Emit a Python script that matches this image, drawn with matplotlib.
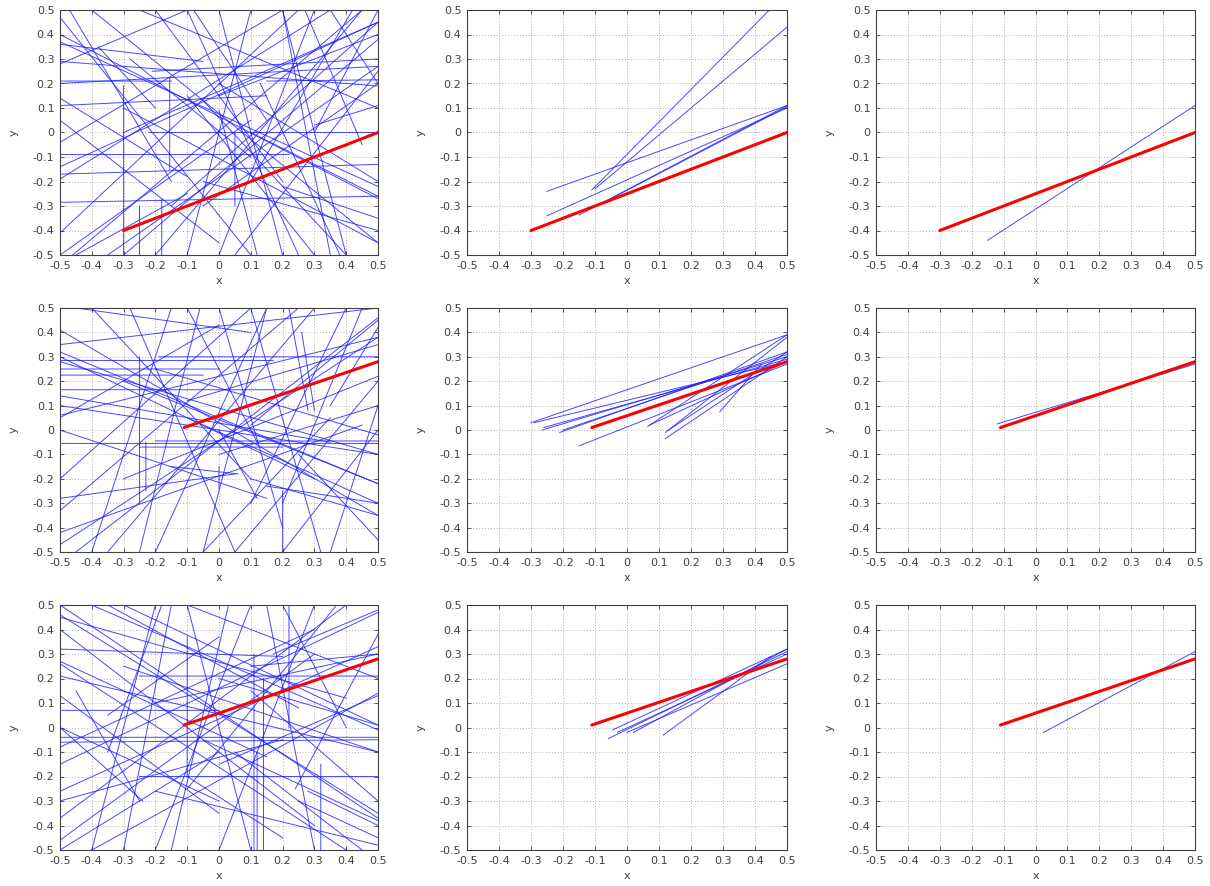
import matplotlib
matplotlib.use("Agg")
from matplotlib import pyplot as plt
from matplotlib.ticker import FuncFormatter, MultipleLocator

plt.rcParams['axes.unicode_minus'] = False
plt.rcParams['font.family'] = 'DejaVu Sans'

# target segment (red) for each row
target_top = [(-0.30, -0.40), (0.50, 0.00)]
target_mid = [(-0.11, 0.01), (0.50, 0.28)]
target_bot = [(-0.11, 0.01), (0.50, 0.28)]

# blue segments, (x0, y0, x1, y1)
segs_top_left = [
    (-0.50, 0.21, -0.15, 0.21), (-0.22, 0.00, 0.50, 0.00), (-0.50, -0.09, 0.22, -0.09),
    (-0.50, -0.17, 0.50, -0.13), (-0.50, -0.285, 0.50, -0.26), (-0.30, 0.19, -0.30, -0.50),
    (-0.155, 0.22, -0.155, -0.15), (-0.18, -0.27, -0.18, -0.50), (0.05, 0.00, 0.05, -0.30),
    (-0.50, 0.11, 0.15, 0.15), (-0.21, 0.25, 0.50, 0.30), (-0.50, 0.20, 0.50, 0.27),
    (-0.50, 0.36, -0.05, 0.29), (0.15, 0.21, 0.50, 0.215), (-0.50, -0.41, 0.25, 0.50),
    (-0.46, -0.50, 0.45, 0.50), (-0.50, 0.47, 0.10, -0.50), (-0.47, 0.50, -0.15, -0.20),
    (-0.50, 0.40, 0.50, -0.27), (-0.50, 0.37, 0.50, -0.22), (-0.40, 0.50, 0.50, -0.45),
    (-0.25, 0.50, 0.50, 0.10), (-0.50, -0.04, 0.20, 0.50), (-0.50, -0.14, 0.50, 0.45),
    (-0.50, -0.19, 0.35, 0.50), (0.00, 0.50, 0.20, -0.50), (0.10, 0.50, -0.10, -0.50),
    (0.20, 0.50, 0.35, -0.50), (0.30, 0.50, 0.00, -0.50), (0.42, 0.50, 0.10, -0.20),
    (-0.10, 0.50, 0.25, -0.50), (-0.20, 0.50, 0.20, -0.20), (0.30, 0.03, 0.50, 0.11),
    (-0.15, -0.30, 0.50, 0.45), (-0.30, -0.50, 0.50, 0.38), (-0.35, -0.50, 0.50, 0.27),
    (-0.20, -0.50, 0.45, 0.50), (0.50, -0.20, 0.00, 0.20), (0.50, -0.45, -0.30, 0.10),
    (0.50, -0.26, 0.10, 0.00), (0.00, 0.09, 0.12, -0.50), (-0.05, -0.30, 0.50, 0.20),
    (0.40, -0.50, 0.20, 0.50), (0.50, -0.40, -0.05, -0.20), (-0.25, -0.30, -0.25, -0.50),
    (-0.50, 0.29, 0.50, 0.19), (-0.10, 0.50, -0.50, 0.28), (0.50, 0.45, -0.30, 0.00),
    (0.50, 0.40, 0.00, 0.15), (0.05, -0.50, 0.50, 0.25), (0.27, 0.50, 0.45, -0.05),
    (0.50, 0.50, 0.30, 0.00), (-0.10, 0.15, 0.30, -0.50), (-0.50, 0.14, -0.10, -0.18),
    (-0.28, 0.30, 0.10, -0.10), (0.13, 0.20, 0.38, -0.50), (-0.45, -0.50, -0.10, -0.25),
    (0.20, -0.22, 0.50, -0.35), (-0.38, 0.35, -0.20, 0.10), (-0.50, -0.50, 0.10, 0.05),
    (-0.08, 0.50, 0.15, 0.05), (-0.50, 0.05, 0.00, -0.45), (0.35, 0.50, 0.50, 0.20),
    (-0.05, 0.13, 0.40, -0.50),
]

segs_mid_left = [
    (-0.19, 0.30, 0.50, 0.30), (-0.50, 0.285, 0.17, 0.285), (-0.50, 0.25, 0.00, 0.25),
    (-0.50, 0.225, -0.05, 0.225), (-0.50, 0.165, 0.20, 0.165), (-0.50, -0.055, 0.50, -0.055),
    (-0.20, -0.045, 0.50, -0.045), (-0.25, -0.07, 0.20, -0.07), (0.20, -0.25, 0.20, -0.50),
    (0.00, -0.15, 0.00, -0.24), (-0.23, -0.05, -0.23, -0.25), (-0.50, 0.41, 0.50, -0.35),
    (-0.50, 0.32, 0.50, -0.22), (-0.50, 0.30, 0.30, -0.20), (-0.50, -0.20, 0.10, 0.50),
    (-0.50, -0.33, 0.25, 0.50), (-0.50, -0.47, 0.50, 0.38), (-0.45, -0.50, 0.50, 0.46),
    (-0.50, -0.42, 0.45, 0.02), (-0.50, 0.10, 0.50, -0.10), (-0.40, 0.50, 0.10, -0.20),
    (-0.28, 0.50, 0.05, -0.50), (-0.10, 0.50, 0.12, -0.05), (-0.06, 0.50, -0.25, -0.50),
    (0.00, 0.50, 0.20, -0.40), (0.15, 0.50, -0.05, -0.50), (0.22, 0.50, 0.28, 0.08),
    (0.40, 0.50, 0.10, -0.30), (0.50, 0.45, 0.10, 0.02), (0.50, 0.38, -0.50, 0.06),
    (0.50, 0.35, -0.10, 0.12), (0.50, 0.22, -0.30, -0.20), (0.50, 0.10, 0.00, -0.10),
    (0.50, -0.02, -0.20, 0.25), (0.50, -0.10, -0.50, 0.28), (0.50, -0.22, -0.30, 0.20),
    (0.50, -0.30, -0.10, 0.05), (0.50, -0.35, 0.10, -0.20), (0.50, -0.45, 0.25, -0.10),
    (0.35, -0.50, 0.50, 0.10), (0.32, -0.50, 0.10, 0.50), (0.20, -0.50, 0.50, 0.00),
    (0.05, -0.50, 0.50, 0.20), (-0.05, -0.50, 0.35, 0.05), (-0.20, -0.50, 0.15, 0.50),
    (-0.35, -0.50, 0.30, 0.50), (-0.25, -0.30, -0.25, 0.30), (-0.50, 0.00, 0.15, -0.28),
    (-0.15, -0.15, 0.06, -0.18), (0.15, -0.23, 0.50, -0.30), (-0.50, 0.05, 0.00, 0.43),
    (0.26, 0.40, 0.30, 0.08), (0.00, 0.00, 0.12, -0.28), (0.35, 0.10, 0.50, 0.42),
    (-0.50, 0.35, 0.50, 0.50), (-0.45, 0.50, 0.10, 0.40), (-0.50, -0.28, 0.05, -0.18),
    (-0.15, 0.50, -0.40, -0.50), (0.45, 0.50, 0.20, -0.30), (-0.50, 0.14, 0.35, -0.05),
]

segs_bot_left = [
    (-0.50, 0.32, 0.20, 0.29), (-0.25, 0.21, 0.50, 0.21), (-0.50, 0.07, 0.00, 0.07),
    (-0.50, -0.04, 0.50, -0.04), (-0.50, -0.06, 0.50, -0.05), (-0.25, -0.20, 0.50, -0.20),
    (-0.10, 0.37, -0.10, -0.20), (0.11, 0.30, 0.11, -0.50), (0.22, 0.50, 0.22, 0.00),
    (0.12, -0.10, 0.12, -0.50), (0.32, -0.15, 0.32, -0.50), (0.14, 0.20, 0.14, -0.50),
    (-0.50, 0.50, 0.50, -0.37), (-0.50, 0.46, 0.50, -0.35), (-0.50, 0.40, 0.30, -0.40),
    (-0.50, 0.26, 0.40, -0.50), (-0.50, 0.21, 0.50, -0.10), (-0.50, 0.13, 0.00, -0.35),
    (-0.40, 0.50, 0.50, -0.01), (-0.30, 0.50, 0.50, 0.01), (-0.10, 0.50, 0.50, 0.20),
    (-0.50, -0.15, 0.50, 0.47), (-0.50, -0.26, 0.50, 0.33), (-0.50, -0.37, 0.40, 0.50),
    (-0.50, -0.46, 0.30, 0.30), (-0.40, -0.50, 0.50, 0.14), (-0.20, -0.50, 0.10, 0.50),
    (-0.30, -0.50, -0.15, 0.50), (-0.20, 0.50, -0.40, -0.50), (-0.18, 0.50, -0.35, -0.10),
    (-0.10, 0.50, 0.10, -0.50), (0.03, 0.50, -0.15, -0.50), (0.15, 0.50, 0.30, -0.50),
    (0.30, 0.50, 0.00, -0.50), (0.37, 0.50, -0.10, -0.25), (0.50, 0.38, 0.24, -0.25),
    (0.50, 0.30, -0.20, 0.10), (0.50, 0.13, 0.00, -0.15), (0.50, 0.01, 0.00, 0.20),
    (0.50, -0.10, -0.30, 0.25), (0.50, -0.30, 0.10, 0.15), (0.50, -0.38, -0.05, -0.05),
    (0.50, -0.45, 0.25, -0.30), (-0.20, -0.26, 0.50, -0.48), (-0.50, 0.00, -0.24, -0.30),
    (-0.45, 0.15, -0.25, -0.30), (-0.50, 0.27, 0.15, -0.12), (0.00, 0.37, -0.35, 0.05),
    (0.05, -0.10, 0.45, -0.50), (-0.10, -0.20, 0.20, -0.45), (-0.50, -0.50, 0.00, -0.10),
    (0.17, 0.30, 0.50, 0.48), (0.00, -0.30, -0.50, 0.00), (0.28, -0.26, 0.50, -0.40),
    (-0.50, 0.45, 0.40, 0.12), (-0.35, 0.50, 0.25, 0.08), (-0.50, -0.08, 0.30, 0.40),
    (0.20, 0.50, 0.40, 0.00), (-0.50, -0.30, 0.20, -0.05), (0.10, 0.25, 0.50, 0.30),
]

segs_top_mid = [
    (-0.11, -0.235, 0.445, 0.50), (-0.10, -0.23, 0.50, 0.43), (-0.25, -0.24, 0.50, 0.11),
    (-0.25, -0.34, 0.50, 0.10), (-0.15, -0.337, 0.50, 0.11), (-0.05, -0.27, 0.50, 0.105),
]

segs_mid_mid = [
    (-0.30, 0.03, 0.50, 0.39), (-0.265, 0.00, 0.50, 0.30), (-0.21, -0.01, 0.50, 0.32),
    (-0.15, -0.065, 0.50, 0.27), (-0.20, 0.00, 0.50, 0.31), (-0.26, 0.01, 0.50, 0.29),
    (0.065, 0.015, 0.50, 0.39), (0.12, -0.01, 0.50, 0.38), (0.12, -0.035, 0.50, 0.30),
    (0.29, 0.075, 0.42, 0.27), (0.07, 0.02, 0.50, 0.28), (0.13, 0.00, 0.50, 0.32),
    (-0.29, 0.03, 0.50, 0.28),
]

segs_bot_mid = [
    (-0.045, -0.01, 0.50, 0.32), (-0.058, -0.045, 0.50, 0.31), (-0.03, -0.02, 0.50, 0.30),
    (0.00, -0.02, 0.50, 0.26), (0.02, -0.02, 0.50, 0.32), (0.113, -0.031, 0.45, 0.29),
]

segs_top_right = [(-0.15, -0.44, 0.50, 0.11)]
segs_mid_right = [(-0.12, 0.025, 0.50, 0.27)]
segs_bot_right = [(0.025, -0.02, 0.50, 0.31)]

panels = [
    [(segs_top_left, target_top), (segs_top_mid, target_top), (segs_top_right, target_top)],
    [(segs_mid_left, target_mid), (segs_mid_mid, target_mid), (segs_mid_right, target_mid)],
    [(segs_bot_left, target_bot), (segs_bot_mid, target_bot), (segs_bot_right, target_bot)],
]

# axes boxes in pixels (left, right) / (top, bottom)
W, H = 1210, 886
cols = [(60, 378), (467, 787), (876, 1195)]
rows = [(10, 255), (308, 552), (605, 850)]

fig = plt.figure(figsize=(W / 100, H / 100), dpi=100)
fmt = FuncFormatter(lambda v, pos: "%g" % round(v, 2))

for r, (top, bot) in enumerate(rows):
    for c, (left, right) in enumerate(cols):
        ax = fig.add_axes([left / W, 1 - bot / H, (right - left) / W, (bot - top) / H])
        segs, target = panels[r][c]
        for x0, y0, x1, y1 in segs:
            ax.plot([x0, x1], [y0, y1], color='#1a1aff', lw=0.7, alpha=0.8, snap=False)
        ax.plot([target[0][0], target[1][0]], [target[0][1], target[1][1]],
                color='#ff0000', lw=2.2, solid_capstyle='round', zorder=5)
        ax.set_xlim(-0.5, 0.5)
        ax.set_ylim(-0.5, 0.5)
        ax.xaxis.set_major_locator(MultipleLocator(0.1))
        ax.yaxis.set_major_locator(MultipleLocator(0.1))
        ax.xaxis.set_major_formatter(fmt)
        ax.yaxis.set_major_formatter(fmt)
        ax.grid(True, color='#b0b0b0', linestyle=(0, (1, 2)), lw=0.7)
        ax.set_axisbelow(True)
        ax.tick_params(direction='in', length=3, width=0.6, color='#404040',
                       labelsize=8, labelcolor='#404040', top=True, right=True, pad=4)
        for sp in ax.spines.values():
            sp.set_color('#404040')
            sp.set_linewidth(0.8)
        ax.set_xlabel('x', fontsize=8, color='#404040', labelpad=4)
        ax.set_ylabel('y', fontsize=8, color='#404040', labelpad=10)

fig.savefig('out.png', dpi=100)
